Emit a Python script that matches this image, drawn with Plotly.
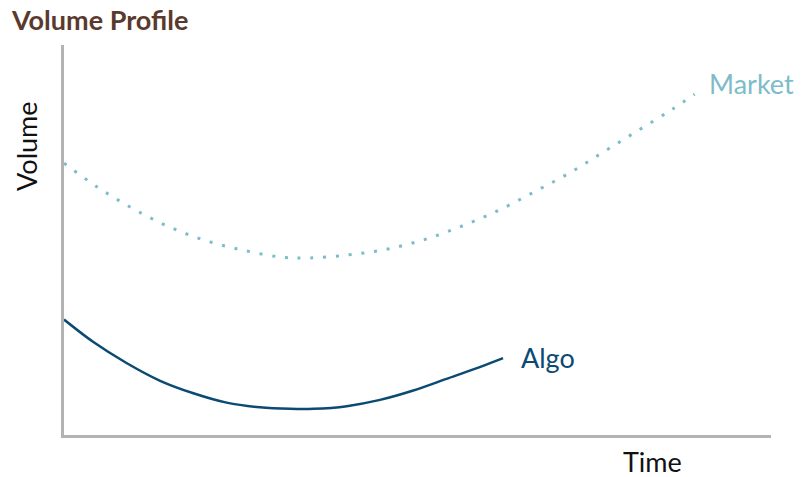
import plotly.graph_objects as go

# Data (arbitrary units 0-100)
market_x = [0, 4.7, 9.6, 14.6, 19.8, 25.3, 30.8, 34.7, 40.3, 45.8, 51.3, 56.6, 61.8, 66.8, 71.7, 76.5, 81.3, 86.1, 89.2]
market_y = [69.7, 63.6, 58.2, 53.6, 50.0, 47.4, 45.6, 45.4, 46.2, 47.7, 50.3, 53.8, 57.9, 62.6, 67.4, 72.8, 78.2, 83.6, 87.4]
algo_x = [0, 4.1, 8.9, 13.6, 18.3, 23.0, 27.7, 32.0, 35.3, 40.0, 44.7, 49.4, 54.1, 58.8, 62.1]
algo_y = [29.6, 23.9, 18.4, 13.9, 10.7, 8.3, 7.1, 6.7, 6.7, 7.4, 9.0, 11.4, 14.4, 17.4, 19.7]
series_names = ["Market", "Algo"]

MARKET_C = "#7dbcc8"
ALGO_C = "#0b4a73"
FONT = "Lato"

fig = go.Figure()
fig.add_trace(go.Scatter(x=market_x, y=market_y, mode="lines", name=series_names[0],
                         line=dict(color=MARKET_C, width=3, dash="3px,9.8px", shape="spline"),
                         hoverinfo="skip"))
fig.add_trace(go.Scatter(x=algo_x, y=algo_y, mode="lines", name=series_names[1],
                         line=dict(color=ALGO_C, width=2.5, shape="spline", smoothing=0.8),
                         hoverinfo="skip"))

fig.add_annotation(x=market_x[-1], y=market_y[-1], text=series_names[0], showarrow=False,
                   xanchor="left", yanchor="middle", xshift=12, yshift=11,
                   font=dict(family=FONT, size=27, color=MARKET_C))
fig.add_annotation(x=algo_x[-1], y=algo_y[-1], text=series_names[1], showarrow=False,
                   xanchor="left", yanchor="middle", xshift=16, yshift=1,
                   font=dict(family=FONT, size=27, color=ALGO_C))

# Title and axis titles
fig.add_annotation(xref="paper", yref="paper", x=-0.0775, y=1.0, text="<b>Volume Profile</b>",
                   showarrow=False, xanchor="left", yanchor="bottom", yshift=7,
                   font=dict(family=FONT, size=27, color="#5b3a2e"))
fig.add_annotation(xref="paper", yref="paper", x=0, y=0.74, text="Volume", textangle=-90,
                   showarrow=False, xanchor="right", yanchor="middle", xshift=-19,
                   font=dict(family=FONT, size=27, color="#111111"))
fig.add_annotation(xref="paper", yref="paper", x=0.833, y=0, text="Time",
                   showarrow=False, xanchor="center", yanchor="top", yshift=-8,
                   font=dict(family=FONT, size=27, color="#111111"))

axis_common = dict(showline=True, linecolor="#b3b3b3", linewidth=3, showgrid=False,
                   zeroline=False, showticklabels=False, ticks="", fixedrange=True)
fig.update_xaxes(range=[0, 100], **axis_common)
fig.update_yaxes(range=[0, 100], **axis_common)

fig.update_layout(width=803, height=477, margin=dict(l=64, r=32, t=45, b=42),
                  plot_bgcolor="white", paper_bgcolor="white", showlegend=False,
                  font=dict(family=FONT))

fig.write_html("out.html")
